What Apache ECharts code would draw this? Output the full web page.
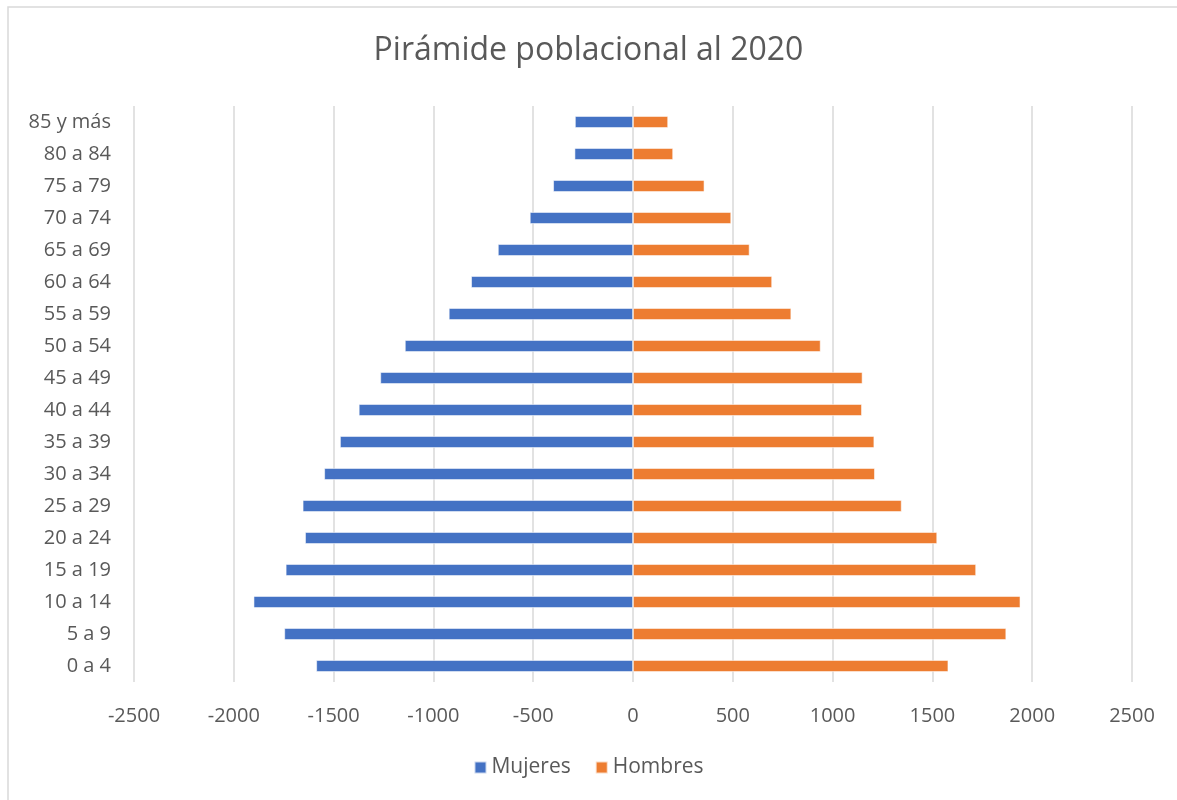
<!DOCTYPE html>
<html>
<head>
<meta charset="utf-8">
<script src="https://cdn.jsdelivr.net/npm/echarts@6/dist/echarts.min.js"></script>
<style>
  html, body { margin: 0; padding: 0; background: #ffffff; }
  #chart { width: 1177px; height: 800px; }
</style>
</head>
<body>
<div id="chart"></div>
<script>
// Age groups, youngest first (drawn bottom to top)
const ageGroups = ['0 a 4', '5 a 9', '10 a 14', '15 a 19', '20 a 24', '25 a 29', '30 a 34', '35 a 39',
  '40 a 44', '45 a 49', '50 a 54', '55 a 59', '60 a 64', '65 a 69', '70 a 74', '75 a 79', '80 a 84', '85 y más'];

// Women are plotted to the left as negative counts
const mujeres = [-1587, -1747, -1901, -1740, -1643, -1655, -1547, -1468,
  -1374, -1266, -1143, -923, -811, -677, -517, -400, -293, -291];

// Men to the right
const hombres = [1580, 1870, 1941, 1719, 1524, 1346, 1212, 1209,
  1147, 1150, 940, 793, 697, 584, 492, 358, 201, 176];

const xTicks = { min: -2500, max: 2500, interval: 500 };

const FONT = 'Open Sans';
const TEXT = '#595959';

const chart = echarts.init(document.getElementById('chart'), null, { renderer: 'canvas' });

chart.setOption({
  backgroundColor: '#ffffff',
  animation: false,
  textStyle: { fontFamily: FONT },
  graphic: [{
    type: 'rect',
    shape: { x: 8, y: 7, width: 1200, height: 820 },
    style: { fill: 'none', stroke: '#d9d9d9', lineWidth: 1.5 },
    silent: true
  }],
  title: {
    text: 'Pirámide poblacional al 2020',
    left: 'center',
    top: 30,
    textStyle: { fontFamily: FONT, fontSize: 32, fontWeight: 'normal', color: TEXT }
  },
  legend: {
    bottom: 17,
    left: 'center',
    itemWidth: 12,
    itemHeight: 12,
    itemGap: 24,
    icon: 'rect',
    textStyle: { fontFamily: FONT, fontSize: 21, color: TEXT },
    data: ['Mujeres', 'Hombres']
  },
  grid: { left: 134, right: 45, top: 106, bottom: 118, containLabel: false },
  xAxis: {
    type: 'value',
    min: xTicks.min,
    max: xTicks.max,
    interval: xTicks.interval,
    axisLine: { show: false },
    axisTick: { show: false },
    axisLabel: { fontFamily: FONT, fontSize: 20, color: TEXT, margin: 24, formatter: v => String(v) },
    splitLine: { show: true, lineStyle: { color: '#d9d9d9', width: 1.5 } }
  },
  yAxis: {
    type: 'category',
    data: ageGroups,
    position: 'left',
    axisLine: { show: false, onZero: false },
    axisTick: { show: false },
    axisLabel: { fontFamily: FONT, fontSize: 20, color: TEXT, margin: 23 },
    splitLine: { show: false }
  },
  series: [
    {
      name: 'Mujeres',
      type: 'bar',
      data: mujeres,
      barWidth: 12,
      barGap: '-100%',
      itemStyle: { color: '#4472c4', borderColor: 'rgba(255,255,255,0.7)', borderWidth: 0.8 }
    },
    {
      name: 'Hombres',
      type: 'bar',
      data: hombres,
      barWidth: 12,
      barGap: '-100%',
      itemStyle: { color: '#ed7d31', borderColor: 'rgba(255,255,255,0.7)', borderWidth: 0.8 }
    }
  ]
});
</script>
</body>
</html>
